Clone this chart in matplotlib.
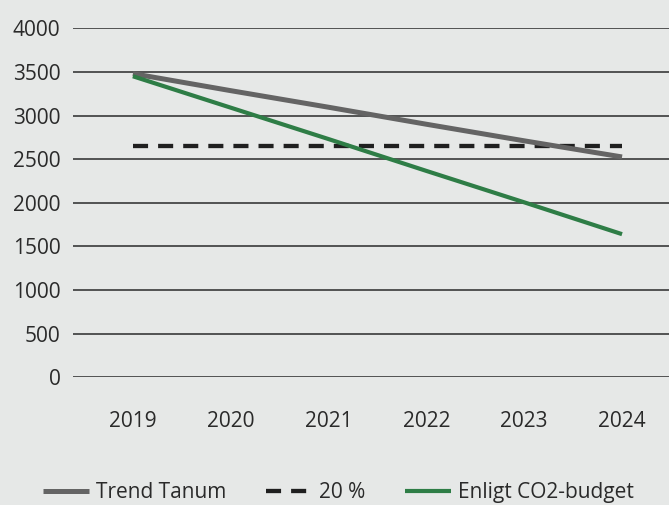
import matplotlib
matplotlib.use("Agg")
import matplotlib.pyplot as plt

plt.rcParams['font.family'] = ['Open Sans', 'DejaVu Sans']

years = ['2019', '2020', '2021', '2022', '2023', '2024']
trend_tanum = [3480, 3285, 3095, 2900, 2710, 2525]
tjugo_procent = [2650, 2650, 2650, 2650, 2650, 2650]
co2_budget = [3450, 3090, 2730, 2365, 2005, 1640]
yticks = [0, 500, 1000, 1500, 2000, 2500, 3000, 3500, 4000]

bg = '#e6e8e7'
fig = plt.figure(figsize=(6.69, 5.05), dpi=100, facecolor=bg)
ax = fig.add_axes([0.109, 0.253, 0.891, 0.691], facecolor=bg)

x = list(range(len(years)))
ax.plot(x, trend_tanum, color='#646464', lw=3.6, solid_capstyle='butt', label='Trend Tanum', zorder=3)
ax.plot(x, tjugo_procent, color='#1f1f1f', lw=3.1, dashes=(3.5, 2.33), label='20 %', zorder=2)
ax.plot(x, co2_budget, color='#2e7d46', lw=3.0, solid_capstyle='butt', label='Enligt CO2-budget', zorder=3)

ax.set_ylim(0, 4000)
ax.set_xlim(-0.613, 5.48)
ax.set_yticks(yticks)
ax.set_xticks(x)
ax.set_xticklabels(years)
ax.yaxis.grid(True, color='#2a2a2a', lw=1.1)
ax.set_axisbelow(True)
for s in ax.spines.values():
    s.set_visible(False)
ax.tick_params(length=0, labelsize=15, colors='#2a2a2a')
ax.tick_params(axis='y', pad=9)
ax.tick_params(axis='x', pad=24)

fig.legend(loc='center', bbox_to_anchor=(0.506, 0.025), ncol=3, frameon=False,
           fontsize=15, handlelength=2.2, columnspacing=1.9, handletextpad=0.35,
           labelcolor='#2a2a2a', borderpad=0, borderaxespad=0)

fig.savefig('out.png', facecolor=bg)
